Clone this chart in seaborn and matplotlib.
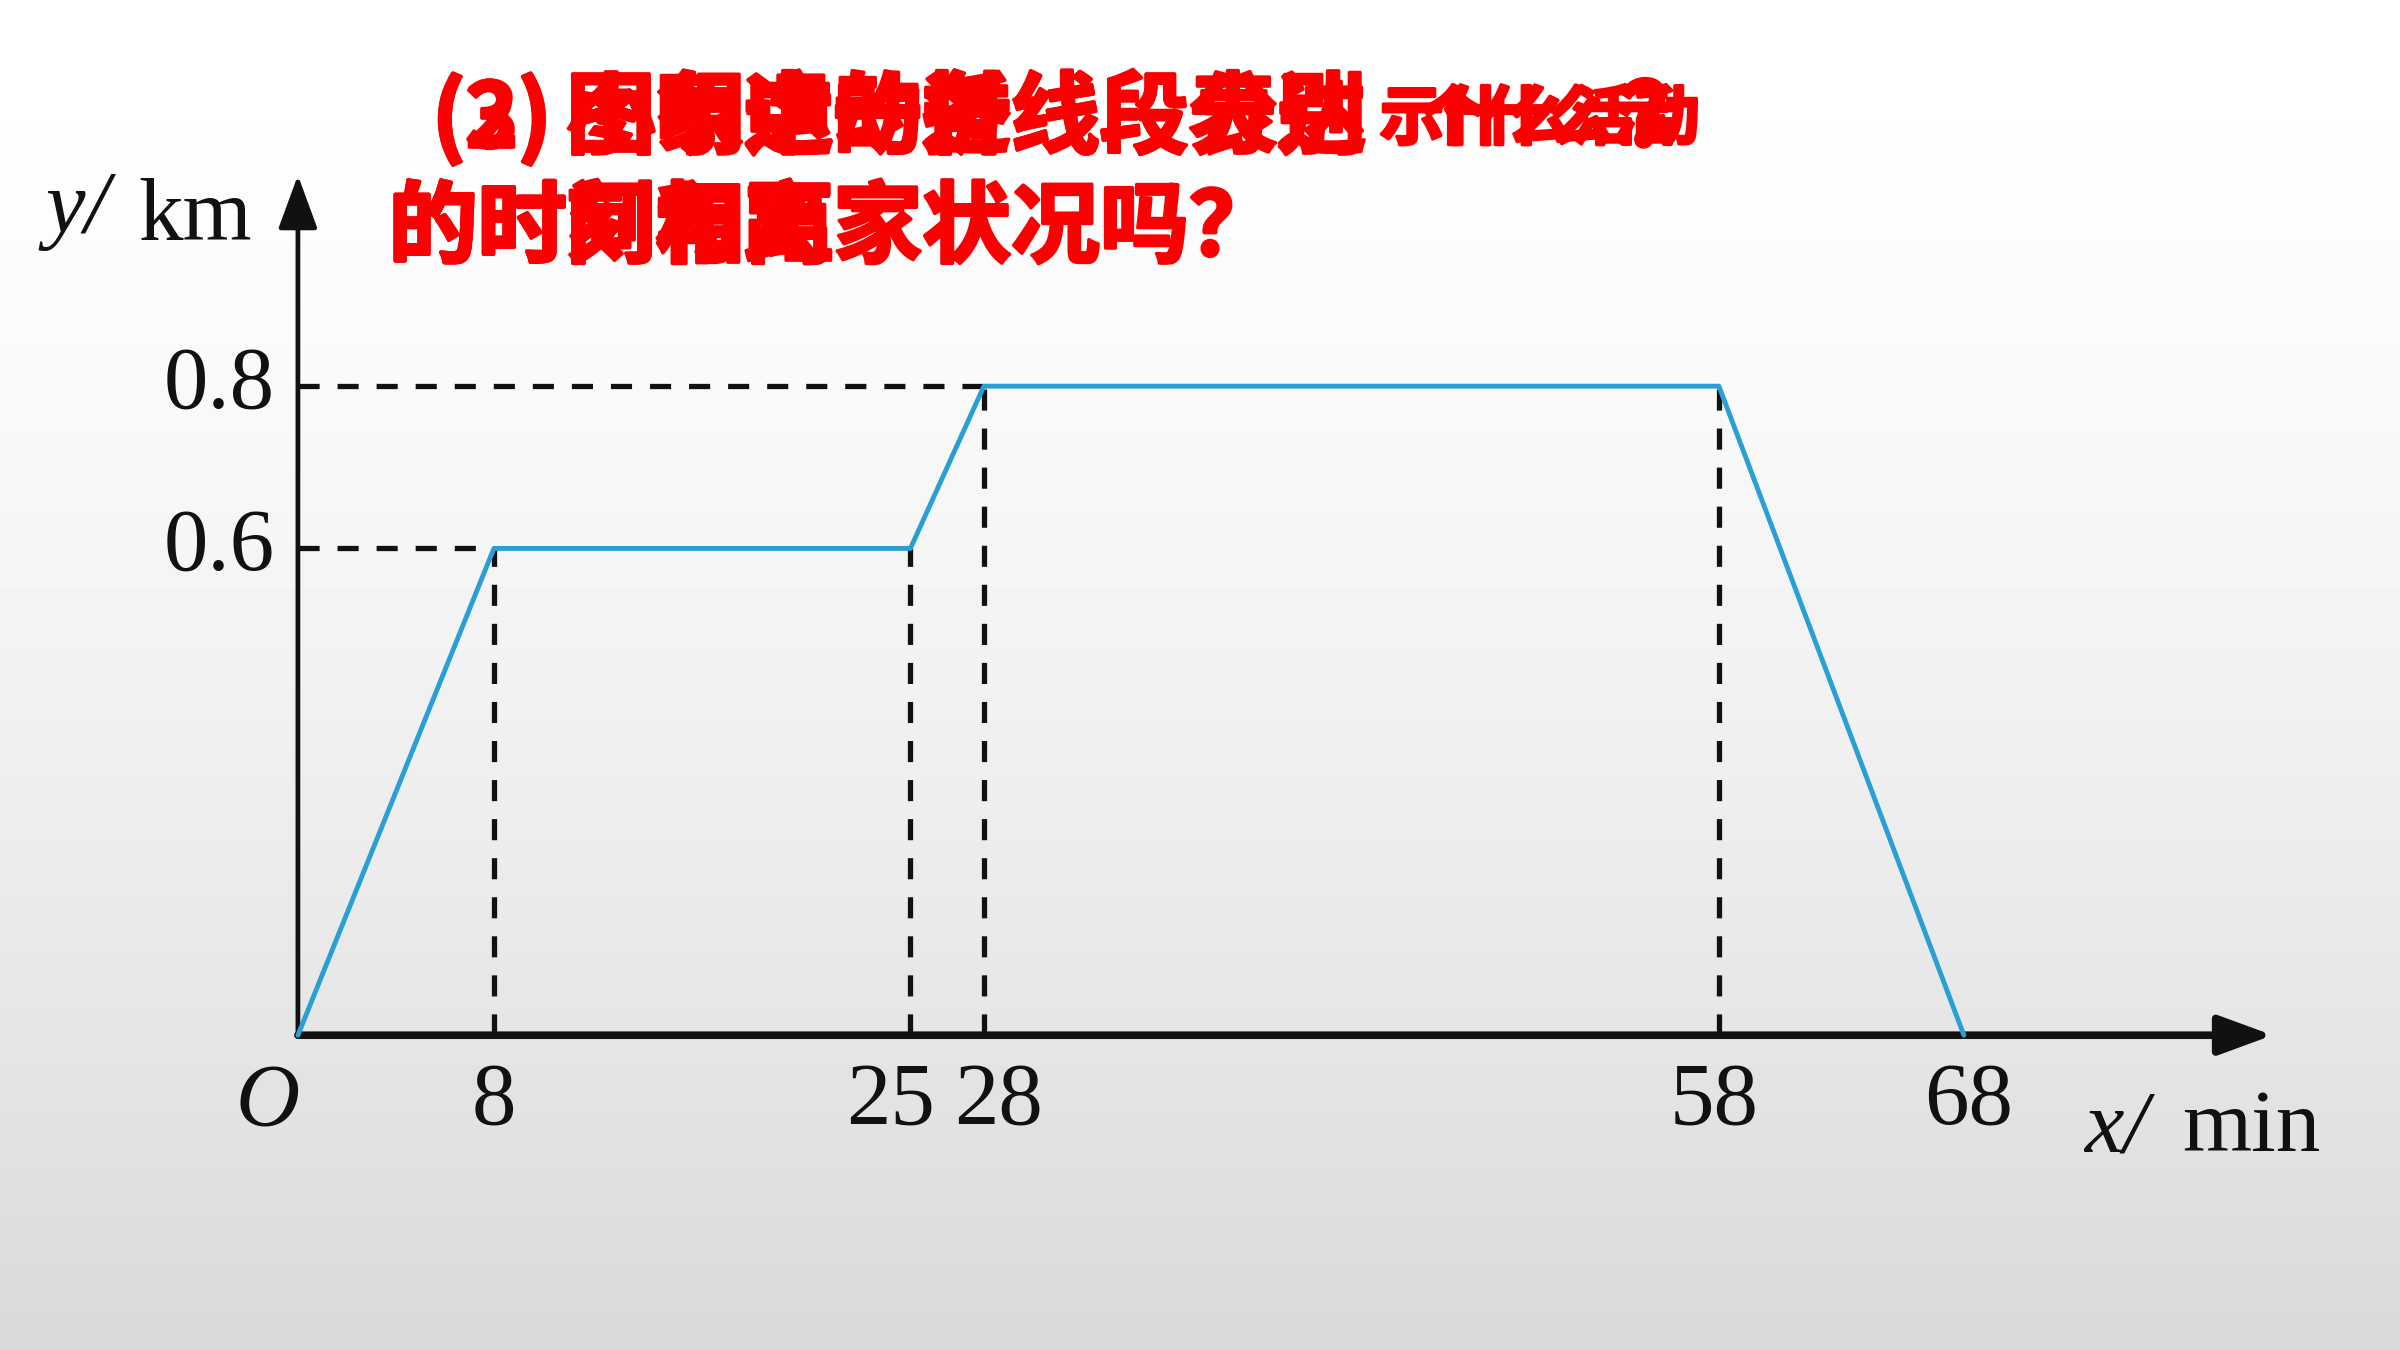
import numpy as np
import matplotlib
matplotlib.use("Agg")
import matplotlib.pyplot as plt
import matplotlib.patheffects as pe
import seaborn as sns

# Walk: time (min) vs distance from home (km)
TIME_MIN = [0, 8, 25, 28, 58, 68]
DIST_KM = [0, 0.6, 0.6, 0.8, 0.8, 0]

X_TICKS = [8, 25, 28, 58, 68]
X_TICK_LABELS = ["8", "25", "28", "58", "68"]
Y_TICKS = [0.8, 0.6]
Y_TICK_LABELS = ["0.8", "0.6"]

# dashed guides down to the x axis and across to the y axis
VGUIDE_X = [8, 25, 28, 58]
VGUIDE_TOP = [0.6, 0.6, 0.8, 0.8]
HGUIDE_Y = [0.8, 0.6]
HGUIDE_END = [28, 8]

# overlaid question texts (slide animation frames stacked on each other)
Q_PREFIX = ["(3)", "(2)"]
Q_LINE1 = ["图象中的各线段分别", "图象这一折线段表达", "小明运动过"]
Q_LINE1_TAIL = ["示什么活动", "个什么活"]
Q_LINE2 = ["的时间和离家状况吗？", "的时间与距", "的时刻相离"]

# layout
XLIM = (-12.16, 85.8)
YLIM = (-0.388, 1.276)
X_NUDGE = [0, -0.8, 0.6, -0.2, 0.2]
BLUE = "#2a9fd6"
INK = "#111111"
RED = "#fb0000"

sns.set_theme(style="white")
plt.rcParams["font.family"] = ["Liberation Serif", "DejaVu Serif"]
CJK = ["Noto Sans CJK SC", "DejaVu Sans"]

fig = plt.figure(figsize=(24, 13.5), dpi=100)
ax = fig.add_axes([0, 0, 1, 1])

# soft grey slide background
t = np.linspace(0, 1, 400)[:, None]
grad = 1.0 - 0.15 * t ** 1.5
ax.imshow(grad, extent=[XLIM[0], XLIM[1], YLIM[0], YLIM[1]], aspect="auto",
          cmap="gray", vmin=0, vmax=1, zorder=0)

dash = (0, (4.0, 3.4))
ax.vlines(VGUIDE_X, 0, VGUIDE_TOP, colors=INK, linestyles=[dash], lw=3.8, zorder=2)
ax.hlines(HGUIDE_Y, 0, HGUIDE_END, colors=INK, linestyles=[dash], lw=3.8, zorder=2)

sns.lineplot(x=TIME_MIN, y=DIST_KM, ax=ax, color=BLUE, lw=3.5, sort=False,
             estimator=None, zorder=4)

# axes with arrow heads
ax.annotate("", xy=(80.6, 0), xytext=(0, 0),
            arrowprops=dict(arrowstyle="-|>,head_length=1.5,head_width=0.55",
                            mutation_scale=22, lw=5.5, color=INK,
                            shrinkA=0, shrinkB=0), zorder=3)
ax.annotate("", xy=(0, 1.06), xytext=(0, 0),
            arrowprops=dict(arrowstyle="-|>,head_length=1.5,head_width=0.55",
                            mutation_scale=22, lw=3.4, color=INK,
                            shrinkA=0, shrinkB=0), zorder=3)

num_kw = dict(fontsize=64, color=INK, zorder=5)
for xv, lab, dx in zip(X_TICKS, X_TICK_LABELS, X_NUDGE):
    ax.text(xv + dx, -0.083, lab, ha="center", va="center", **num_kw)
for yv, lab in zip(Y_TICKS, Y_TICK_LABELS):
    ax.text(-0.94, yv, lab, ha="right", va="center", **num_kw)
ax.text(-1.22, -0.083, "O", ha="center", va="center", style="italic", **num_kw)

ax.text(-10.3, 0.99, "y/", ha="left", va="baseline", style="italic", **num_kw)
ax.text(-6.5, 0.98, "km", ha="left", va="baseline", **num_kw)
ax.text(72.9, -0.143, "x/", ha="left", va="baseline", style="italic", **num_kw)
ax.text(76.9, -0.143, "min", ha="left", va="baseline", **num_kw)

ax.set_xlim(*XLIM)
ax.set_ylim(*YLIM)
ax.axis("off")

# red question text, stacked frames
heavy = [pe.withStroke(linewidth=2.5, foreground=RED)]
red_kw = dict(fontsize=64, color=RED, fontweight="bold", family=CJK,
              transform=ax.transAxes, va="center", ha="left", zorder=6,
              path_effects=heavy)
for p in Q_PREFIX:
    ax.text(0.180, 0.911, p, **red_kw)
for s in Q_LINE1:
    ax.text(0.236, 0.911, s, **red_kw)
for s, x0 in zip(Q_LINE1_TAIL, [0.575, 0.592]):
    ax.text(x0, 0.911, s, **{**red_kw, "fontsize": 46})
ax.text(0.676, 0.911, "？", **red_kw)
for s in Q_LINE2:
    ax.text(0.162, 0.830, s, **red_kw)

fig.savefig("out.png", dpi=100)
plt.close(fig)
